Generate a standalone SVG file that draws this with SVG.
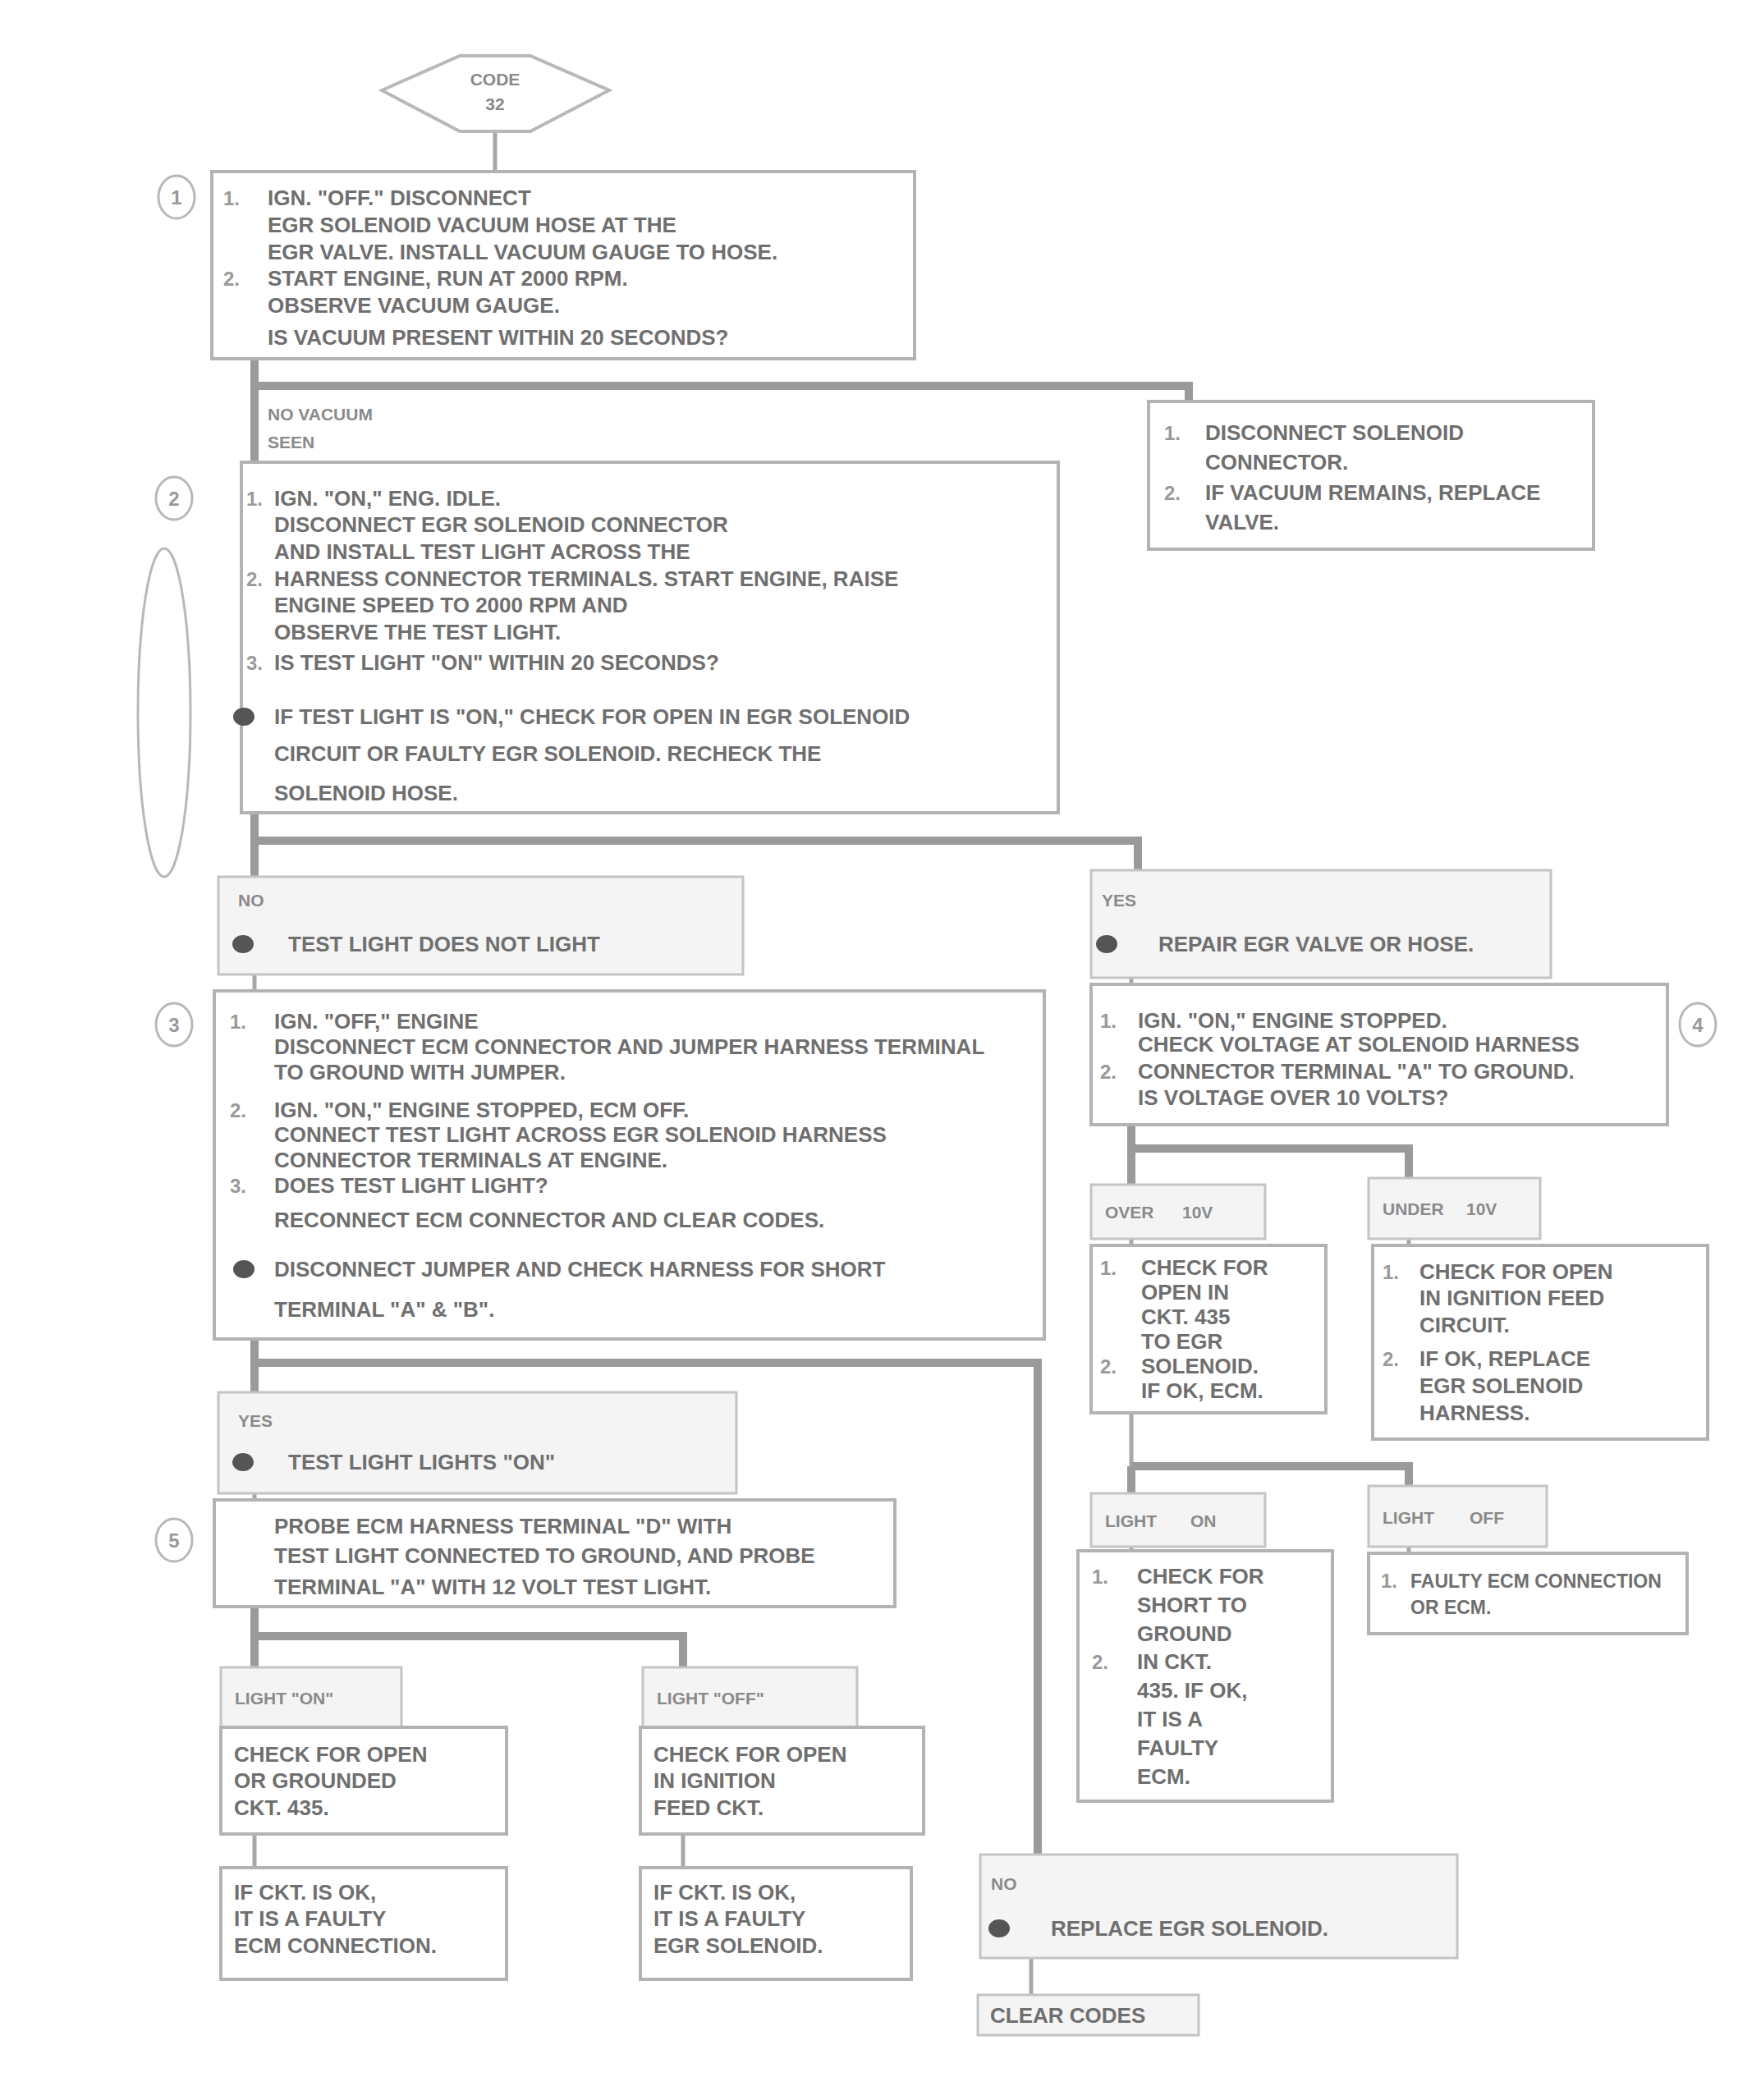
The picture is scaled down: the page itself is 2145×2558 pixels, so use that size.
<svg xmlns="http://www.w3.org/2000/svg" width="2145" height="2558" viewBox="0 0 2145 2558">
<defs>
<style>
.box{fill:#fff;stroke:#b3b3b3;stroke-width:4}
.lab{fill:#f4f4f4;stroke:#c4c4c4;stroke-width:3}
.t{font-family:"Liberation Sans",Arial,sans-serif;font-weight:bold;font-size:26px;fill:#6f6f6f}
.t23{font-size:23px}
.s{font-family:"Liberation Sans",Arial,sans-serif;font-weight:bold;font-size:21px;fill:#8a8a8a}
.n{font-family:"Liberation Sans",Arial,sans-serif;font-weight:bold;font-size:24px;fill:#999}
.oval{fill:none;stroke:#b8b8b8;stroke-width:3}
.conn{fill:none;stroke:#9a9a9a;stroke-width:10}
.thin{fill:none;stroke:#a8a8a8;stroke-width:5}
.dot{fill:#555}
</style>
</defs>
<rect width="2145" height="2558" fill="#fff"/>

<g id="connectors">
<path class="thin" d="M603,160 V209"/>
<path class="conn" d="M310,437 V470 H1448 V489"/>
<path class="conn" d="M310,470 V563"/>
<path class="conn" d="M310,990 V1024 H1386 V1060"/>
<path class="conn" d="M310,1024 V1068"/>
<path class="thin" d="M310,1187 V1207"/>
<path class="thin" d="M1378,1191 V1199"/>
<path class="conn" d="M310,1631 V1660 H1264 V2259"/>
<path class="conn" d="M310,1660 V1696"/>
<path class="thin" d="M310,1819 V1827"/>
<path class="conn" d="M310,1957 V1993 H832 V2031"/>
<path class="conn" d="M310,1993 V2031"/>
<path class="thin" d="M310,2234 V2275"/>
<path class="thin" d="M832,2234 V2275"/>
<path class="conn" d="M1378,1370 V1399 H1716 V1435"/>
<path class="conn" d="M1378,1399 V1443"/>
<path class="thin" d="M1378,1509 V1786"/>
<path class="thin" d="M1716,1509 V1517"/>
<path class="conn" d="M1378,1786 V1819"/>
<path class="conn" d="M1378,1786 H1716 V1810"/>
<path class="thin" d="M1378,1884 V1889"/>
<path class="thin" d="M1716,1884 V1892"/>
<path class="thin" d="M1256,2385 V2430"/>
</g>

<g id="start">
<polygon points="465,110 560,68 646,68 742,110 646,160 560,160" fill="#fff" stroke="#b8b8b8" stroke-width="4"/>
<text class="s" x="603" y="104" text-anchor="middle">CODE</text>
<text class="s" x="603" y="134" text-anchor="middle">32</text>
</g>

<g id="step1">
<rect class="box" x="258" y="209" width="856" height="228"/>
<ellipse class="oval" cx="215" cy="240" rx="22" ry="26"/>
<text class="n" x="215" y="249" text-anchor="middle">1</text>
<text class="n" x="272" y="250">1.</text>
<text class="n" x="272" y="348">2.</text>
<text class="t" x="326" y="250">IGN. "OFF." DISCONNECT</text>
<text class="t" x="326" y="283">EGR SOLENOID VACUUM HOSE AT THE</text>
<text class="t" x="326" y="316">EGR VALVE. INSTALL VACUUM GAUGE TO HOSE.</text>
<text class="t" x="326" y="348">START ENGINE, RUN AT 2000 RPM.</text>
<text class="t" x="326" y="381">OBSERVE VACUUM GAUGE.</text>
<text class="t" x="326" y="420">IS VACUUM PRESENT WITHIN 20 SECONDS?</text>
</g>

<g id="label1">
<text class="s" x="326" y="512">NO VACUUM</text>
<text class="s" x="326" y="546">SEEN</text>
</g>

<g id="boxA">
<rect class="box" x="1399" y="489" width="542" height="180"/>
<text class="n" x="1418" y="536">1.</text>
<text class="n" x="1418" y="609">2.</text>
<text class="t" x="1468" y="536">DISCONNECT SOLENOID</text>
<text class="t" x="1468" y="572">CONNECTOR.</text>
<text class="t" x="1468" y="609">IF VACUUM REMAINS, REPLACE</text>
<text class="t" x="1468" y="645">VALVE.</text>
</g>

<g id="step2">
<ellipse class="oval" cx="200" cy="868" rx="32" ry="200"/>
<rect class="box" x="294" y="563" width="995" height="427"/>
<ellipse class="oval" cx="212" cy="607" rx="22" ry="26"/>
<text class="n" x="212" y="616" text-anchor="middle">2</text>
<text class="n" x="300" y="616">1.</text>
<text class="n" x="300" y="714">2.</text>
<text class="n" x="300" y="816">3.</text>
<text class="t" x="334" y="616">IGN. "ON," ENG. IDLE.</text>
<text class="t" x="334" y="648">DISCONNECT EGR SOLENOID CONNECTOR</text>
<text class="t" x="334" y="681">AND INSTALL TEST LIGHT ACROSS THE</text>
<text class="t" x="334" y="714">HARNESS CONNECTOR TERMINALS. START ENGINE, RAISE</text>
<text class="t" x="334" y="746">ENGINE SPEED TO 2000 RPM AND</text>
<text class="t" x="334" y="779">OBSERVE THE TEST LIGHT.</text>
<text class="t" x="334" y="816">IS TEST LIGHT "ON" WITHIN 20 SECONDS?</text>
<ellipse class="dot" cx="297" cy="873" rx="13" ry="11"/>
<text class="t" x="334" y="882">IF TEST LIGHT IS "ON," CHECK FOR OPEN IN EGR SOLENOID</text>
<text class="t" x="334" y="927">CIRCUIT OR FAULTY EGR SOLENOID. RECHECK THE</text>
<text class="t" x="334" y="975">SOLENOID HOSE.</text>
</g>

<g id="result2a">
<rect class="lab" x="266" y="1068" width="639" height="119"/>
<text class="s" x="290" y="1104">NO</text>
<ellipse class="dot" cx="296" cy="1150" rx="13" ry="11"/>
<text class="t" x="351" y="1159">TEST LIGHT DOES NOT LIGHT</text>
</g>

<g id="result2b">
<rect class="lab" x="1329" y="1060" width="560" height="131"/>
<text class="s" x="1342" y="1104">YES</text>
<ellipse class="dot" cx="1348" cy="1150" rx="13" ry="11"/>
<text class="t" x="1411" y="1159">REPAIR EGR VALVE OR HOSE.</text>
</g>

<g id="step3">
<rect class="box" x="261" y="1207" width="1011" height="424"/>
<ellipse class="oval" cx="212" cy="1248" rx="22" ry="26"/>
<text class="n" x="212" y="1257" text-anchor="middle">3</text>
<text class="n" x="280" y="1253">1.</text>
<text class="n" x="280" y="1361">2.</text>
<text class="n" x="280" y="1453">3.</text>
<text class="t" x="334" y="1253">IGN. "OFF," ENGINE</text>
<text class="t" x="334" y="1284">DISCONNECT ECM CONNECTOR AND JUMPER HARNESS TERMINAL</text>
<text class="t" x="334" y="1315">TO GROUND WITH JUMPER.</text>
<text class="t" x="334" y="1361">IGN. "ON," ENGINE STOPPED, ECM OFF.</text>
<text class="t" x="334" y="1391">CONNECT TEST LIGHT ACROSS EGR SOLENOID HARNESS</text>
<text class="t" x="334" y="1422">CONNECTOR TERMINALS AT ENGINE.</text>
<text class="t" x="334" y="1453">DOES TEST LIGHT LIGHT?</text>
<text class="t" x="334" y="1495">RECONNECT ECM CONNECTOR AND CLEAR CODES.</text>
<ellipse class="dot" cx="297" cy="1546" rx="13" ry="11"/>
<text class="t" x="334" y="1555">DISCONNECT JUMPER AND CHECK HARNESS FOR SHORT</text>
<text class="t" x="334" y="1604">TERMINAL "A" &amp; "B".</text>
</g>

<g id="step4">
<rect class="box" x="1329" y="1199" width="702" height="171"/>
<ellipse class="oval" cx="2068" cy="1248" rx="22" ry="26"/>
<text class="n" x="2068" y="1257" text-anchor="middle">4</text>
<text class="n" x="1340" y="1252">1.</text>
<text class="n" x="1340" y="1314">2.</text>
<text class="t" x="1386" y="1252">IGN. "ON," ENGINE STOPPED.</text>
<text class="t" x="1386" y="1281">CHECK VOLTAGE AT SOLENOID HARNESS</text>
<text class="t" x="1386" y="1314">CONNECTOR TERMINAL "A" TO GROUND.</text>
<text class="t" x="1386" y="1346">IS VOLTAGE OVER 10 VOLTS?</text>
</g>

<g id="label4a">
<rect class="lab" x="1329" y="1443" width="212" height="66"/>
<text class="s" x="1346" y="1484">OVER</text>
<text class="s" x="1440" y="1484">10V</text>
</g>
<g id="label4b">
<rect class="lab" x="1667" y="1435" width="209" height="74"/>
<text class="s" x="1684" y="1480">UNDER</text>
<text class="s" x="1786" y="1480">10V</text>
</g>

<g id="result4a">
<rect class="box" x="1329" y="1517" width="286" height="204"/>
<text class="n" x="1340" y="1553">1.</text>
<text class="n" x="1340" y="1673">2.</text>
<text class="t" x="1390" y="1553">CHECK FOR</text>
<text class="t" x="1390" y="1583">OPEN IN</text>
<text class="t" x="1390" y="1613">CKT. 435</text>
<text class="t" x="1390" y="1643">TO EGR</text>
<text class="t" x="1390" y="1673">SOLENOID.</text>
<text class="t" x="1390" y="1703">IF OK, ECM.</text>
</g>

<g id="result4b">
<rect class="box" x="1672" y="1517" width="408" height="236"/>
<text class="n" x="1684" y="1558">1.</text>
<text class="n" x="1684" y="1664">2.</text>
<text class="t" x="1729" y="1558">CHECK FOR OPEN</text>
<text class="t" x="1729" y="1590">IN IGNITION FEED</text>
<text class="t" x="1729" y="1623">CIRCUIT.</text>
<text class="t" x="1729" y="1664">IF OK, REPLACE</text>
<text class="t" x="1729" y="1697">EGR SOLENOID</text>
<text class="t" x="1729" y="1730">HARNESS.</text>
</g>

<g id="label5a">
<rect class="lab" x="1329" y="1819" width="212" height="65"/>
<text class="s" x="1346" y="1860">LIGHT</text>
<text class="s" x="1450" y="1860">ON</text>
</g>
<g id="label5b">
<rect class="lab" x="1667" y="1810" width="217" height="74"/>
<text class="s" x="1684" y="1856">LIGHT</text>
<text class="s" x="1790" y="1856">OFF</text>
</g>

<g id="result5a">
<rect class="box" x="1313" y="1889" width="310" height="305"/>
<text class="n" x="1330" y="1929">1.</text>
<text class="n" x="1330" y="2033">2.</text>
<text class="t" x="1385" y="1929">CHECK FOR</text>
<text class="t" x="1385" y="1964">SHORT TO</text>
<text class="t" x="1385" y="1999">GROUND</text>
<text class="t" x="1385" y="2033">IN CKT.</text>
<text class="t" x="1385" y="2068">435. IF OK,</text>
<text class="t" x="1385" y="2103">IT IS A</text>
<text class="t" x="1385" y="2138">FAULTY</text>
<text class="t" x="1385" y="2173">ECM.</text>
</g>

<g id="result5b">
<rect class="box" x="1667" y="1892" width="388" height="98"/>
<text class="n" x="1682" y="1934">1.</text>
<text class="t t23" x="1718" y="1934">FAULTY ECM CONNECTION</text>
<text class="t t23" x="1718" y="1966">OR ECM.</text>
</g>

<g id="result3a">
<rect class="lab" x="266" y="1696" width="631" height="123"/>
<text class="s" x="290" y="1738">YES</text>
<ellipse class="dot" cx="296" cy="1781" rx="13" ry="11"/>
<text class="t" x="351" y="1790">TEST LIGHT LIGHTS "ON"</text>
</g>

<g id="step5">
<rect class="box" x="261" y="1827" width="829" height="130"/>
<ellipse class="oval" cx="212" cy="1876" rx="22" ry="26"/>
<text class="n" x="212" y="1885" text-anchor="middle">5</text>
<text class="t" x="334" y="1868">PROBE ECM HARNESS TERMINAL "D" WITH</text>
<text class="t" x="334" y="1904">TEST LIGHT CONNECTED TO GROUND, AND PROBE</text>
<text class="t" x="334" y="1942">TERMINAL "A" WITH 12 VOLT TEST LIGHT.</text>
</g>

<g id="label6a">
<rect class="lab" x="269" y="2031" width="220" height="73"/>
<text class="s" x="286" y="2076">LIGHT "ON"</text>
</g>
<g id="label6b">
<rect class="lab" x="783" y="2031" width="261" height="73"/>
<text class="s" x="800" y="2076">LIGHT "OFF"</text>
</g>

<g id="result6a">
<rect class="box" x="269" y="2104" width="348" height="130"/>
<text class="t" x="285" y="2146">CHECK FOR OPEN</text>
<text class="t" x="285" y="2178">OR GROUNDED</text>
<text class="t" x="285" y="2211">CKT. 435.</text>
</g>
<g id="result6a2">
<rect class="box" x="269" y="2275" width="348" height="136"/>
<text class="t" x="285" y="2314">IF CKT. IS OK,</text>
<text class="t" x="285" y="2346">IT IS A FAULTY</text>
<text class="t" x="285" y="2379">ECM CONNECTION.</text>
</g>
<g id="result6b">
<rect class="box" x="780" y="2104" width="345" height="130"/>
<text class="t" x="796" y="2146">CHECK FOR OPEN</text>
<text class="t" x="796" y="2178">IN IGNITION</text>
<text class="t" x="796" y="2211">FEED CKT.</text>
</g>
<g id="result6b2">
<rect class="box" x="780" y="2275" width="330" height="136"/>
<text class="t" x="796" y="2314">IF CKT. IS OK,</text>
<text class="t" x="796" y="2346">IT IS A FAULTY</text>
<text class="t" x="796" y="2379">EGR SOLENOID.</text>
</g>

<g id="result3b">
<rect class="lab" x="1194" y="2259" width="581" height="126"/>
<text class="s" x="1207" y="2302">NO</text>
<ellipse class="dot" cx="1217" cy="2349" rx="13" ry="11"/>
<text class="t" x="1280" y="2358">REPLACE EGR SOLENOID.</text>
</g>

<g id="end">
<rect class="lab" x="1191" y="2430" width="269" height="49"/>
<text class="t" x="1206" y="2464">CLEAR CODES</text>
</g>
</svg>
